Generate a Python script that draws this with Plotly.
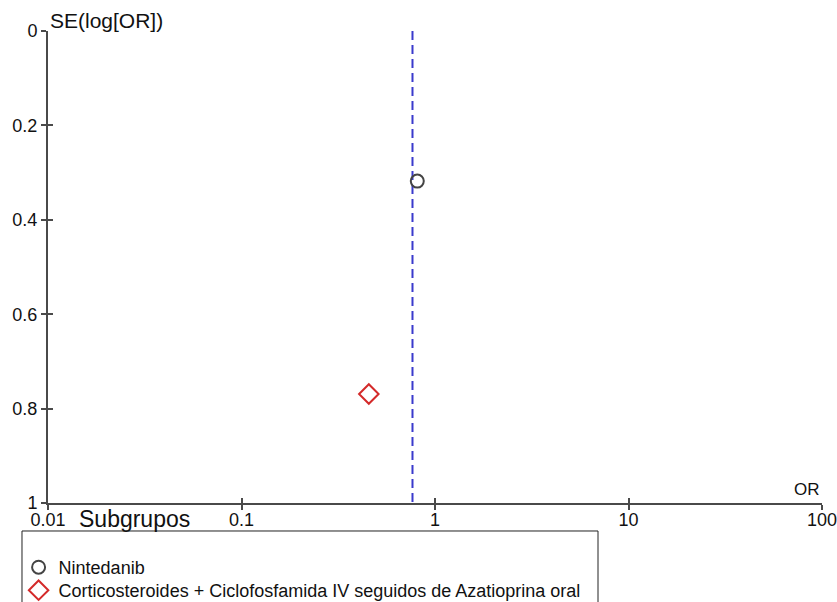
import plotly.graph_objects as go

# ---- data ----
subgroups = ["Nintedanib", "Corticosteroides + Ciclofosfamida IV seguidos de Azatioprina oral"]
or_values = [0.81, 0.455]
se_values = [0.318, 0.769]
pooled_or = 0.765
x_tickvals = [0.01, 0.1, 1, 10, 100]
x_ticktext = ["0.01", "0.1", "1", "10", "100"]
y_tickvals = [0, 0.2, 0.4, 0.6, 0.8, 1]
y_ticktext = ["0", "0.2", "0.4", "0.6", "0.8", "1"]

marker_symbols = ["circle-open", "diamond-open"]
marker_colors = ["#444444", "#d42a2a"]
marker_sizes = [13, 15]
legend_ids = ["legend", "legend2"]

FONT = "Liberation Sans, Arial, Helvetica, sans-serif"
AX = "#4a4a4a"

fig = go.Figure()

# pooled effect line
fig.add_trace(go.Scatter(
    x=[pooled_or, pooled_or], y=[0, 1], mode="lines",
    line=dict(color="#3a3acc", width=2, dash="9px,5px"),
    showlegend=False, hoverinfo="skip"))

for name, o, s, sym, col, sz, lg in zip(subgroups, [[v] for v in or_values], [[v] for v in se_values],
                                        marker_symbols, marker_colors, marker_sizes, legend_ids):
    fig.add_trace(go.Scatter(
        x=o, y=s, mode="markers", name=name, legend=lg,
        marker=dict(symbol=sym, size=sz, color=col, line=dict(color=col, width=2))))

# invisible trace on overlay axes (for inside ticks)
fig.add_trace(go.Scatter(x=[pooled_or], y=[0], xaxis="x2", yaxis="y2", mode="markers",
                         marker=dict(opacity=0), showlegend=False, hoverinfo="skip"))

common_x = dict(type="log", range=[-2, 2], tickvals=x_tickvals, showgrid=False, zeroline=False,
                tickcolor=AX, tickwidth=1.5, ticklen=5, automargin=False)
common_y = dict(range=[1, 0], tickvals=y_tickvals, showgrid=False, zeroline=False,
                tickcolor=AX, tickwidth=1.5, ticklen=5, automargin=False)

leg_common = dict(xanchor="left", yanchor="top", font=dict(size=18, color="#111111"),
                  bgcolor="rgba(0,0,0,0)", itemwidth=30)

fig.update_layout(
    width=837, height=602,
    margin=dict(l=48, r=15, t=31, b=99, autoexpand=False),
    paper_bgcolor="white", plot_bgcolor="white",
    font=dict(family=FONT, size=18, color="#111111"),
    xaxis=dict(**common_x, ticktext=x_ticktext, ticks="outside", showline=True,
               linecolor=AX, linewidth=2, tickfont=dict(size=18), ticklabelstandoff=-6,
               ticklabeloverflow="allow"),
    yaxis=dict(**common_y, ticktext=y_ticktext, ticks="outside", showline=True,
               linecolor=AX, linewidth=2, tickfont=dict(size=18), ticklabeloverflow="allow"),
    xaxis2=dict(**common_x, overlaying="x", anchor="y2", side="bottom", ticks="inside",
                showticklabels=False, showline=False),
    yaxis2=dict(**common_y, overlaying="y", anchor="x2", side="left", ticks="inside",
                showticklabels=False, showline=False),
    legend=dict(x=-0.038, y=-0.0975, **leg_common),
    legend2=dict(x=-0.038, y=-0.1462, **leg_common),
    annotations=[
        dict(text="SE(log[OR])", xref="paper", yref="paper", x=0.0, y=1.023,
             xanchor="left", yanchor="middle", showarrow=False, font=dict(size=21)),
        dict(text="OR", xref="paper", yref="paper", x=1.0, y=0.0, yshift=2,
             xanchor="right", yanchor="bottom", showarrow=False, font=dict(size=17)),
        dict(text="Subgrupos", xref="paper", yref="paper", x=0.037, y=-0.033,
             xanchor="left", yanchor="middle", showarrow=False, font=dict(size=23)),
    ],
    shapes=[
        dict(type="rect", xref="paper", yref="paper", x0=-0.0336, x1=0.7106, y0=-0.0593, y1=-0.26,
             line=dict(color="#222222", width=1), fillcolor="rgba(0,0,0,0)", layer="above"),
    ],
)

# remove the default 8px page margin so the figure sits at the window's top-left corner
fig.write_html("out.html", config={"displayModeBar": False},
               post_script="document.body.style.margin='0';document.body.style.overflow='hidden';")
